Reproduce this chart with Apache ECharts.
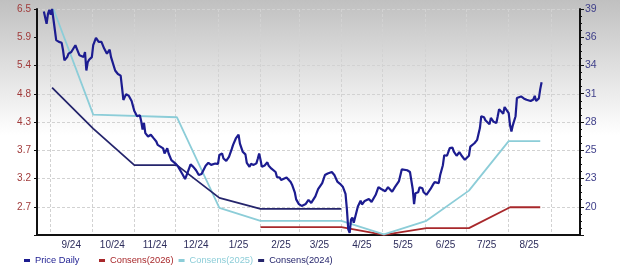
<!DOCTYPE html>
<html><head><meta charset="utf-8">
<script src="https://cdn.jsdelivr.net/npm/echarts@6/dist/echarts.min.js"></script>
<style>html,body{margin:0;padding:0;background:#fff}#c{width:620px;height:270px}</style>
</head><body><div id="c"></div>
<script>
// ---- data (day offsets counted from 2024-08-22) ----
const startDate = [2024, 7, 22];
const endDayOffset = 396;

const priceDayOffsets = [5,7,8,9,10,11,12,14,16,18,
19,20,22,23,25,28,29,31,34,35,
36,37,38,40,41,43,45,47,49,51,
53,54,57,59,61,62,63,65,67,69,
71,73,75,76,77,78,79,81,83,85,
87,88,89,90,92,93,95,96,98,101,
103,104,106,108,110,112,114,116,118,120,
123,125,127,130,132,133,135,136,138,140,
142,143,145,147,148,150,152,153,155,156,
158,160,161,162,163,164,166,168,169,171,
174,175,177,178,180,182,183,185,186,187,
188,189,191,193,194,196,198,200,203,205,
208,210,212,215,217,219,221,223,225,226,
227,228,229,230,231,232,234,236,237,239,
242,244,245,247,249,251,254,256,257,259,
261,264,266,267,270,272,273,274,275,276,
278,279,281,282,284,285,287,289,290,293,
294,296,297,299,301,303,304,306,308,310,
312,313,315,316,317,319,321,322,323,324,
326,327,328,330,331,333,335,336,337,338,
340,341,342,344,345,346,347,349,350,351,
353,355,357,360,362,363,364,366,367,368];

const priceDaily = [38.77,37.57,38.54,38.93,38.44,39.00,38.93,36.01,35.84,35.75,
35.03,34.06,34.38,34.71,34.87,35.52,35.20,34.55,34.38,34.87,
33.09,33.89,34.13,34.38,35.52,36.23,35.84,35.84,35.20,34.71,
35.10,34.38,33.09,32.76,32.60,31.46,30.26,30.82,30.65,30.16,
29.19,28.70,28.80,28.21,27.41,28.05,27.07,26.75,26.92,26.59,
26.27,25.94,26.10,25.78,25.61,25.12,25.61,25.12,24.48,24.15,
23.83,23.66,23.15,22.66,23.34,24.07,23.83,23.51,23.05,23.15,
23.93,24.22,24.02,24.15,24.12,24.97,25.12,24.64,24.41,24.80,
25.53,25.94,26.56,26.92,26.07,25.29,25.03,24.22,23.83,24.12,
24.02,24.17,24.61,25.12,24.51,23.83,23.97,24.27,23.93,23.66,
23.34,22.85,22.81,22.56,22.69,22.81,22.63,22.37,22.12,22.27,
21.39,20.71,20.25,20.08,19.93,20.27,20.66,20.37,21.00,21.69,
22.27,23.05,23.20,23.34,23.02,22.42,22.20,21.93,21.23,19.77,
17.82,17.50,18.76,18.96,18.47,18.57,20.03,20.58,20.22,20.56,
20.74,20.47,20.32,21.15,21.88,21.71,21.49,21.88,21.71,21.44,
21.88,22.47,23.59,23.66,23.51,23.34,23.24,21.71,20.25,21.30,
21.39,21.88,21.78,21.39,21.15,21.34,21.71,22.17,22.37,22.27,
23.02,23.99,24.95,24.90,25.63,25.68,25.29,24.90,25.24,24.85,
24.51,24.32,24.90,25.78,25.94,26.10,26.43,26.59,27.56,28.70,
28.60,28.31,28.36,27.92,28.54,28.16,28.05,28.70,29.38,29.19,
28.94,29.58,29.68,29.00,27.82,27.24,27.82,28.70,30.45,30.55,
30.60,30.41,30.28,30.16,30.31,30.65,30.16,30.41,31.30,31.96];

const cons2026DayOffsets = [163, 222, 253, 284, 315, 345, 367];
const cons2026 = [2.31, 2.31, 2.16, 2.29, 2.29, 2.69, 2.69];

const cons2025DayOffsets = [12, 41, 102, 133, 163, 222, 253, 284, 315, 344, 367];
const cons2025 = [6.50, 4.47, 4.42, 2.68, 2.43, 2.43, 2.17, 2.43, 3.01, 3.96, 3.96];

const cons2024DayOffsets = [11, 41, 71, 102, 133, 163, 222];
const cons2024 = [4.99, 4.20, 3.50, 3.50, 2.87, 2.66, 2.66];

const leftTickLabels = ['2.7','3.2','3.7','4.3','4.8','5.4','5.9','6.5'];
const rightTickLabels = ['20','23','25','28','31','34','36','39'];
const xTickLabels = ['9/24','10/24','11/24','12/24','1/25','2/25','3/25','4/25','5/25','6/25','7/25','8/25'];
const seriesNames = ['Price Daily','Consens(2026)','Consens(2025)','Consens(2024)'];

// ---- build ----
function toTime(d){ return new Date(startDate[0], startDate[1], startDate[2] + d).getTime(); }
function pairs(days, vals){ const n = Math.min(days.length, vals.length); const out=[]; for(let i=0;i<n;i++) out.push([toTime(days[i]), vals[i]]); return out; }

const leftTop = +leftTickLabels[leftTickLabels.length-1], leftBase = +leftTickLabels[0];
const leftStep = (leftTop - leftBase) / (leftTickLabels.length - 1);
const rightTop = +rightTickLabels[rightTickLabels.length-1], rightBase = +rightTickLabels[0];
const rightStep = (rightTop - rightBase) / (rightTickLabels.length - 1);

const colors = {price:'#1c1c90', c26:'#a8282b', c25:'#8ccdd8', c24:'#25256c'};
const FONT = 'Liberation Sans, Arial, sans-serif';
const gridLine = {show:true, lineStyle:{color:'#d2d2d2', width:1, type:[3,2]}};
const legendBase = {top:251, icon:'rect', itemWidth:6, itemHeight:3, itemGap:5, textStyle:{fontSize:9.3, fontFamily:FONT}};

const chart = echarts.init(document.getElementById('c'), null, {renderer:'canvas'});
chart.setOption({
  animation:false,
  backgroundColor:{type:'linear', x:0, y:0, x2:0, y2:1, colorStops:[{offset:0,color:'#c0c0c0'},{offset:0.5,color:'#ffffff'},{offset:1,color:'#ffffff'}]},
  textStyle:{fontFamily:FONT},
  grid:{left:37, right:40, top:9, height:226, containLabel:false},
  legend:[
    Object.assign({}, legendBase, {left:19, data:[{name:seriesNames[0], textStyle:{color:colors.price}}]}),
    Object.assign({}, legendBase, {left:94, data:[
      {name:seriesNames[1], textStyle:{color:colors.c26}},
      {name:seriesNames[2], textStyle:{color:colors.c25}},
      {name:seriesNames[3], textStyle:{color:colors.c24}}
    ]})
  ],
  xAxis:{
    type:'time', min:toTime(0), max:toTime(endDayOffset), splitNumber:12,
    axisLine:{show:true, lineStyle:{color:'#111', width:2}},
    axisTick:{show:false},
    splitLine:gridLine,
    axisLabel:{
      fontSize:10, color:'#2d2d5c', margin:5, padding:[0,0,0,41], hideOverlap:false,
      formatter:function(v){
        const d = new Date(v);
        if (d.getDate() !== 1 || d.getHours() !== 0) return '';
        const key = (d.getMonth()+1) + '/' + String(d.getFullYear()).slice(2);
        return xTickLabels.indexOf(key) >= 0 ? key : '';
      }
    }
  },
  yAxis:[
    {
      type:'value', position:'left', min:leftBase-leftStep, max:leftTop, interval:leftStep,
      axisLine:{show:true, lineStyle:{color:'#111', width:2}},
      axisTick:{show:true, length:3, lineStyle:{color:'#111'}},
      splitLine:gridLine,
      axisLabel:{fontSize:10, color:'#a03a3a', margin:6,
        formatter:function(v){ const i = Math.round((v-leftBase)/leftStep); return (i>=0 && i<leftTickLabels.length) ? leftTickLabels[i] : ''; }}
    },
    {
      type:'value', position:'right', min:rightBase-rightStep, max:rightTop, interval:rightStep,
      axisLine:{show:true, lineStyle:{color:'#111', width:2}},
      axisTick:{show:true, length:4, lineStyle:{color:'#111'}},
      minorTick:{show:true, splitNumber:4, length:2, lineStyle:{color:'#111'}},
      splitLine:{show:false},
      axisLabel:{fontSize:10.5, color:'#40408a', margin:5,
        formatter:function(v){ const i = Math.round((v-rightBase)/rightStep); return (i>=0 && i<rightTickLabels.length) ? rightTickLabels[i] : ''; }}
    }
  ],
  series:[
    {name:seriesNames[1], type:'line', yAxisIndex:0, data:pairs(cons2026DayOffsets, cons2026), showSymbol:false, color:colors.c26, lineStyle:{width:1.8, color:colors.c26}},
    {name:seriesNames[2], type:'line', yAxisIndex:0, data:pairs(cons2025DayOffsets, cons2025), showSymbol:false, color:colors.c25, lineStyle:{width:1.8, color:colors.c25}},
    {name:seriesNames[3], type:'line', yAxisIndex:0, data:pairs(cons2024DayOffsets, cons2024), showSymbol:false, color:colors.c24, lineStyle:{width:1.8, color:colors.c24}},
    {name:seriesNames[0], type:'line', yAxisIndex:1, data:pairs(priceDayOffsets, priceDaily), showSymbol:false, color:colors.price, lineStyle:{width:2.2, color:colors.price}}
  ]
});
</script></body></html>
